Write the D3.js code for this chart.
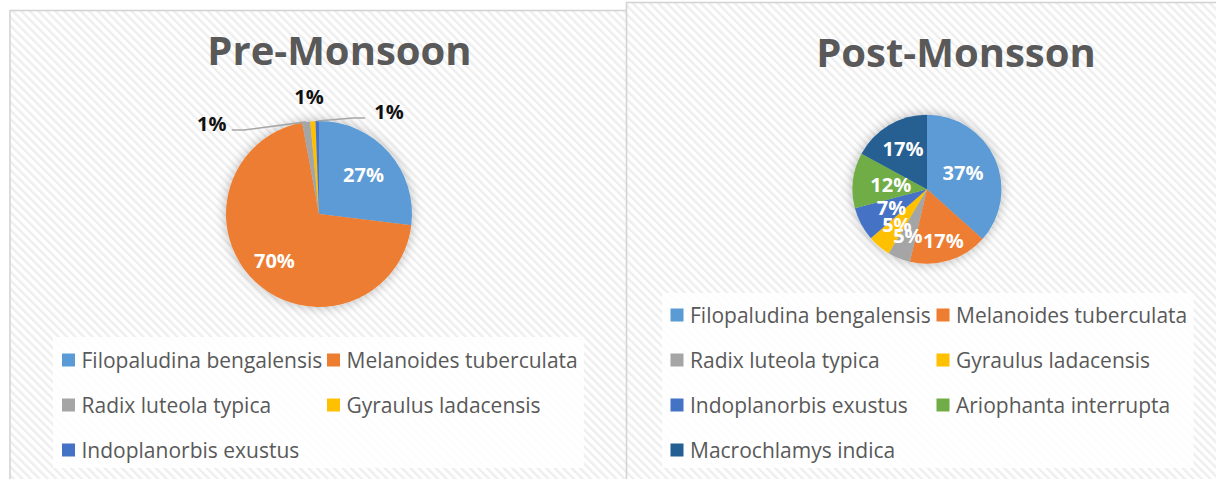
<!DOCTYPE html>
<html>
<head>
<meta charset="utf-8">
<script src="https://cdn.jsdelivr.net/npm/d3@7/dist/d3.min.js"></script>
<style>
  body { margin: 0; background: #fff; }
  text { font-family: "Open Sans", sans-serif; }
</style>
</head>
<body>
<div id="chart"></div>
<script>
// species names, in legend / slice order
var species = ["Filopaludina bengalensis", "Melanoides tuberculata", "Radix luteola typica",
  "Gyraulus ladacensis", "Indoplanorbis exustus", "Ariophanta interrupta", "Macrochlamys indica"];

var colors = ["#5B9BD5", "#ED7D31", "#A5A5A5", "#FFC000", "#4472C4", "#70AD47", "#255E91"];

// percentage share
var preValues = [26.9, 70.1, 1.4, 0.9, 0.6];
var postValues = [36.6, 17.1, 4.9, 5.0, 7.3, 12.0, 17.1];

var titles = ["Pre-Monsoon", "Post-Monsson"];

var W = 1216, H = 479;

var svg = d3.select("#chart").append("svg")
  .attr("width", W).attr("height", H);

var defs = svg.append("defs");

// faint diagonal hatch used by Excel chart areas
var pat = defs.append("pattern")
  .attr("id", "hatch")
  .attr("patternUnits", "userSpaceOnUse")
  .attr("width", 6).attr("height", 6)
  .attr("patternTransform", "rotate(-45)");
pat.append("rect").attr("width", 6).attr("height", 6).attr("fill", "#ffffff");
pat.append("rect").attr("width", 2.4).attr("height", 6).attr("fill", "#eeeeee");

var shadow = defs.append("filter").attr("id", "glow")
  .attr("x", "-30%").attr("y", "-30%").attr("width", "160%").attr("height", "160%");
shadow.append("feDropShadow")
  .attr("dx", 0).attr("dy", 0).attr("stdDeviation", 6)
  .attr("flood-color", "#000").attr("flood-opacity", 0.28);

// layout of each panel
var panels = [
  {
    title: titles[0], values: preValues,
    x: 10, y: 10.5, w: 650, titleX: 339.5, titleY: 65,
    cx: 319, cy: 214, r: 93,
    inR: [0.64, 0.70],
    // outside labels: [angle in degrees, distance as factor of r, leader side]
    out: { 2: [310, 1.505, "left"], 3: [355.1, 1.262, null], 4: [34.5, 1.33, "right"] },
    box: [53, 337, 531, 131],
    legX: [62, 327], legY: [360, 405, 450]
  },
  {
    title: titles[1], values: postValues,
    x: 626.5, y: 2.5, w: 600, titleX: 956, titleY: 66.5,
    cx: 927, cy: 189.3, r: 74.5,
    inR: [0.53, 0.73, 0.68, 0.63, 0.54, 0.49, 0.63],
    out: {},
    box: [662, 293, 531.5, 175],
    legX: [670.5, 936.5], legY: [315, 360, 405, 450]
  }
];

panels.forEach(function (p) {
  var g = svg.append("g");

  g.append("rect")
    .attr("x", p.x).attr("y", p.y)
    .attr("width", p.w).attr("height", H)
    .attr("fill", "url(#hatch)")
    .attr("stroke", "#d4d4d4").attr("stroke-width", 1.6);

  g.append("text")
    .attr("x", p.titleX).attr("y", p.titleY)
    .attr("text-anchor", "middle")
    .attr("font-size", 40).attr("font-weight", 700)
    .attr("fill", "#595959")
    .text(p.title);

  var pie = d3.pie().sort(null).value(function (d) { return d; });
  var arcs = pie(p.values);
  var total = d3.sum(p.values);
  var arc = d3.arc().innerRadius(0).outerRadius(p.r);

  var pg = g.append("g").attr("transform", "translate(" + p.cx + "," + p.cy + ")");

  pg.append("g").attr("filter", "url(#glow)")
    .selectAll("path").data(arcs).enter().append("path")
    .attr("d", arc)
    .attr("fill", function (d, i) { return colors[i]; });

  function pct(d) { return Math.round(d.value / total * 100) + "%"; }

  function polar(angDeg, dist) {
    var a = angDeg * Math.PI / 180;
    return [Math.sin(a) * dist, -Math.cos(a) * dist];
  }

  arcs.forEach(function (d, i) {
    var o = p.out[i];
    if (o) {
      var pos = polar(o[0], o[1] * p.r);
      var mid = (d.startAngle + d.endAngle) / 2;
      var edge = [Math.sin(mid) * p.r, -Math.cos(mid) * p.r];
      if (o[2] === "left") {
        pg.append("path")
          .attr("d", d3.line()([edge, [pos[0] + 32, pos[1] + 6], [pos[0] + 20, pos[1] + 6]]))
          .attr("fill", "none").attr("stroke", "#a6a6a6").attr("stroke-width", 1.6);
      } else if (o[2] === "right") {
        pg.append("path")
          .attr("d", d3.line()([edge, [pos[0] - 36, pos[1] + 6], [pos[0] - 24, pos[1] + 6]]))
          .attr("fill", "none").attr("stroke", "#a6a6a6").attr("stroke-width", 1.6);
      }
      pg.append("text")
        .attr("x", pos[0]).attr("y", pos[1] + 7)
        .attr("text-anchor", "middle")
        .attr("font-size", 20).attr("font-weight", 700)
        .attr("fill", "#111")
        .text(pct(d));
    } else {
      var lr = p.inR[i] * p.r;
      var c = d3.arc().innerRadius(lr).outerRadius(lr).centroid(d);
      pg.append("text")
        .attr("x", c[0]).attr("y", c[1] + 7)
        .attr("text-anchor", "middle")
        .attr("font-size", 20).attr("font-weight", 700)
        .attr("fill", "#ffffff")
        .text(pct(d));
    }
  });

  // legend
  g.append("rect")
    .attr("x", p.box[0]).attr("y", p.box[1])
    .attr("width", p.box[2]).attr("height", p.box[3])
    .attr("fill", "#ffffff").attr("opacity", 0.85);

  var items = g.selectAll(".leg").data(p.values).enter().append("g")
    .attr("transform", function (d, i) {
      return "translate(" + p.legX[i % 2] + "," + p.legY[Math.floor(i / 2)] + ")";
    });
  items.append("rect")
    .attr("x", 0).attr("y", -6.5).attr("width", 13).attr("height", 13)
    .attr("fill", function (d, i) { return colors[i]; });
  items.append("text")
    .attr("x", 19.5).attr("y", 7.5)
    .attr("font-size", 21).attr("fill", "#595959")
    .text(function (d, i) { return species[i]; });
});
</script>
</body>
</html>
